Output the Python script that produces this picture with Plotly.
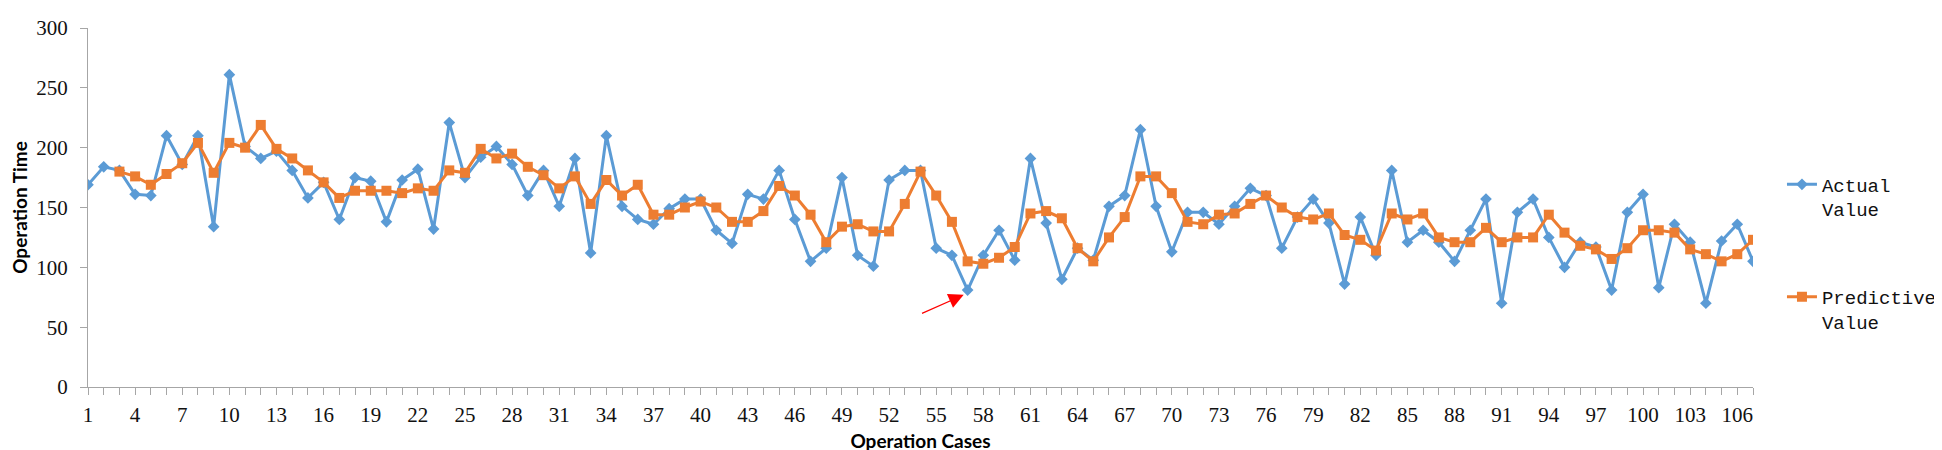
import plotly.graph_objects as go

cases = list(range(1, 108))

actual = [169, 184, 181, 161, 160, 210, 186, 210, 134, 261,
          201, 191, 197, 181, 158, 171, 140, 175, 172, 138,
          173, 182, 132, 221, 175, 192, 201, 186, 160, 181,
          151, 191, 112, 210, 151, 140, 136, 149, 157, 157,
          131, 120, 161, 157, 181, 140, 105, 116, 175, 110,
          101, 173, 181, 181, 116, 110, 81, 110, 131, 106,
          191, 137, 90, 116, 106, 151, 160, 215, 151, 113,
          146, 146, 136, 151, 166, 160, 116, 142, 157, 137,
          86, 142, 110, 181, 121, 131, 121, 105, 131, 157,
          70, 146, 157, 125, 100, 121, 117, 81, 146, 161,
          83, 136, 121, 70, 122, 136, 105]

pred_cases = list(range(3, 108))
predictive = [180, 176, 169, 178, 187, 204, 179, 204, 200, 219,
              199, 191, 181, 171, 158, 164, 164, 164, 162, 166,
              164, 181, 179, 199, 191, 195, 184, 177, 166, 176,
              153, 173, 160, 169, 144, 144, 150, 155, 150, 138,
              138, 147, 168, 160, 144, 121, 134, 136, 130, 130,
              153, 180, 160, 138, 105, 103, 108, 117, 145, 147,
              141, 116, 105, 125, 142, 176, 176, 162, 138, 136,
              144, 145, 153, 160, 150, 142, 140, 145, 127, 123,
              114, 145, 140, 145, 125, 121, 121, 133, 121, 125,
              125, 144, 129, 118, 115, 107, 116, 131, 131, 129,
              115, 111, 105, 111, 123]

x_tick_labels = [str(c) if (c - 1) % 3 == 0 else "" for c in cases]

arrow_tip = (56.75, 77)
arrow_tail = (54.0, 61)

BLUE = "#5B9BD5"
ORANGE = "#ED7D31"
AXIS = "#A6A6A6"

fig = go.Figure()
fig.add_trace(go.Scatter(
    x=cases, y=actual, name="Actual<br>Value", mode="lines+markers",
    line=dict(color=BLUE, width=3),
    marker=dict(symbol="diamond", size=9, color=BLUE),
    legendgroup="a",
))
fig.add_trace(go.Scatter(
    x=pred_cases, y=predictive, name="Predictive<br>Value", mode="lines+markers",
    line=dict(color=ORANGE, width=3),
    marker=dict(symbol="square", size=10, color=ORANGE),
    legendgroup="b",
))

fig.add_annotation(
    x=arrow_tip[0], y=arrow_tip[1], ax=arrow_tail[0], ay=arrow_tail[1],
    xref="x", yref="y", axref="x", ayref="y",
    showarrow=True, arrowhead=2, arrowsize=2.5, arrowwidth=1.2,
    arrowcolor="#FF0000", text="",
)

tick_font = dict(family="Liberation Serif", size=21, color="#111111")
title_font = dict(family="Lato", size=19, color="#000000", weight="bold")

fig.update_layout(
    width=1942, height=450,
    margin=dict(l=80, r=194, t=8, b=71),
    paper_bgcolor="white", plot_bgcolor="white",
    showlegend=True,
    legend=dict(
        x=1.0174, y=0.617, xanchor="left", yanchor="top",
        font=dict(family="Liberation Mono", size=19, color="#111111"),
        valign="top", tracegroupgap=60, traceorder="grouped",
        bgcolor="rgba(0,0,0,0)",
    ),
    xaxis=dict(
        range=[1, 107], tickmode="array", tickvals=cases, ticktext=x_tick_labels,
        ticks="outside", ticklen=7, tickcolor=AXIS, tickwidth=1,
        showline=True, linecolor=AXIS, linewidth=1, showgrid=False, zeroline=False,
        tickfont=tick_font, tickangle=0, ticklabelstandoff=2,
        title=dict(text="Operation Cases", font=title_font, standoff=8),
    ),
    yaxis=dict(
        range=[0, 300], dtick=50, tick0=0,
        ticks="outside", ticklen=7, tickcolor=AXIS, tickwidth=1,
        showline=True, linecolor=AXIS, linewidth=1, showgrid=False, zeroline=False,
        tickfont=tick_font, ticklabelstandoff=8, ticklabeloverflow="allow",
        title=dict(text="Operation Time", font=title_font, standoff=6),
    ),
)

fig.write_html("out.html")
